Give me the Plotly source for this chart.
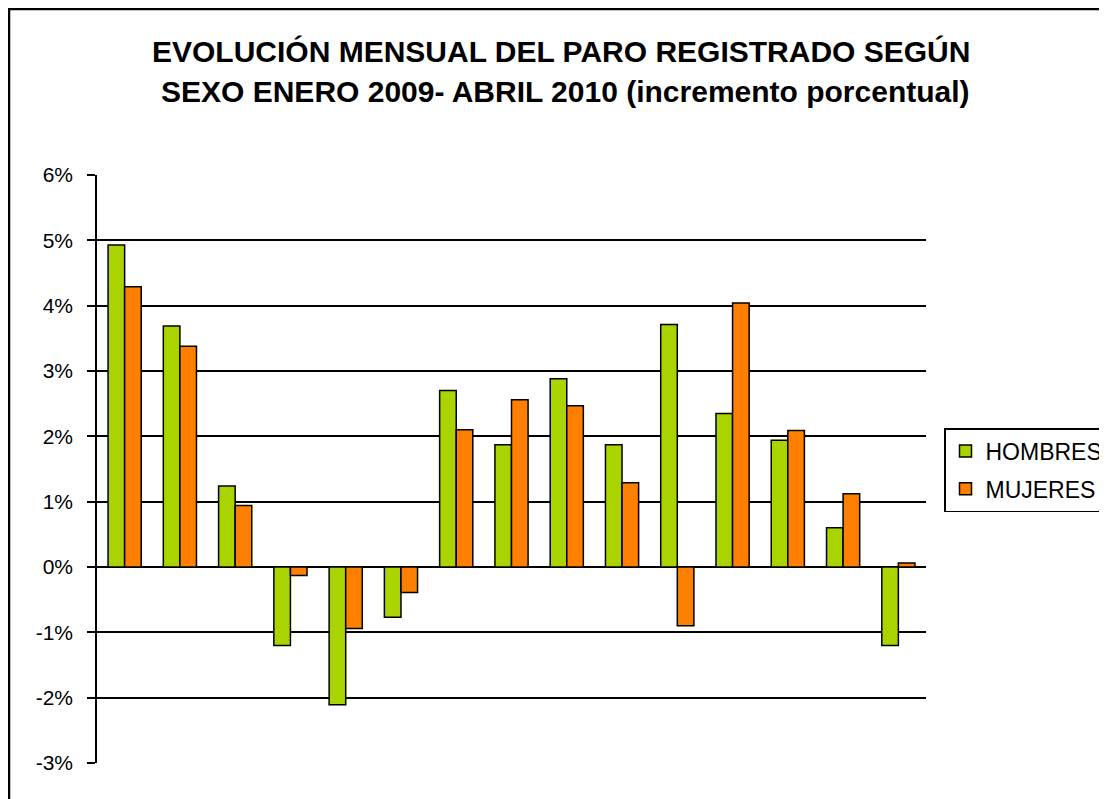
import plotly.graph_objects as go

meses = ["feb-09", "mar-09", "abr-09", "may-09", "jun-09", "jul-09", "ago-09", "sep-09",
         "oct-09", "nov-09", "dic-09", "ene-10", "feb-10", "mar-10", "abr-10"]
hombres = [4.93, 3.69, 1.24, -1.20, -2.11, -0.77, 2.70, 1.87, 2.88, 1.87, 3.71, 2.35, 1.94, 0.60, -1.20]
mujeres = [4.29, 3.38, 0.94, -0.13, -0.94, -0.39, 2.10, 2.56, 2.47, 1.29, -0.90, 4.04, 2.09, 1.12, 0.06]
y_ticks = [-3, -2, -1, 0, 1, 2, 3, 4, 5, 6]
y_labels = [f"{v}%" for v in y_ticks]
titulo1 = "EVOLUCIÓN MENSUAL DEL PARO REGISTRADO SEGÚN"
titulo2 = "SEXO ENERO 2009- ABRIL 2010 (incremento porcentual)"

FONT = "Liberation Sans, Arial, sans-serif"

fig = go.Figure()
fig.add_trace(go.Bar(x=meses, y=hombres, name="HOMBRES", legendgroup="h",
                     marker=dict(color="#AAD400", line=dict(color="#000000", width=1.5))))
fig.add_trace(go.Bar(x=meses, y=mujeres, name="MUJERES", legendgroup="m",
                     marker=dict(color="#FF8000", line=dict(color="#000000", width=1.5))))

O = 8  # page offset of the figure (body margin)
W, H = 1107 - O, 799 - O
L = 97 - O
T = 175 - O
B = H - (763 - O)
R = W - (926 - O)
pw, ph = W - L - R, H - T - B

def px_x(p):
    return (p - O - L) / pw

def px_y(p):
    return (H - B - (p - O)) / ph

fig.update_layout(
    width=W, height=H,
    margin=dict(l=L, r=R, t=T, b=B, pad=0, autoexpand=False),
    paper_bgcolor="white", plot_bgcolor="white",
    barmode="group", bargap=0.4, bargroupgap=0,
    font=dict(family=FONT, color="#000000"),
    showlegend=True,
    legend=dict(x=px_x(944), y=px_y(428), xanchor="left", yanchor="top",
                bordercolor="#000000", borderwidth=1.5, bgcolor="white",
                font=dict(size=23, family=FONT, color="#000000"),
                tracegroupgap=5, itemwidth=30),
    xaxis=dict(showticklabels=False, showgrid=False, showline=False, ticks="",
               zeroline=False),
    yaxis=dict(range=[-3, 6], tickvals=y_ticks, ticktext=y_labels,
               showgrid=True, gridcolor="#000000", gridwidth=1.5,
               zeroline=True, zerolinecolor="#000000", zerolinewidth=1.5,
               showline=True, linecolor="#000000", linewidth=1.5,
               ticks="outside", ticklen=8, tickcolor="#000000", tickwidth=1.5,
               ticklabelstandoff=10,
               tickfont=dict(size=21, family=FONT, color="#000000")),
    shapes=[dict(type="rect", xref="paper", yref="paper",
                 x0=px_x(9), x1=px_x(1130), y0=px_y(830), y1=px_y(9),
                 line=dict(color="#000000", width=2.5), fillcolor="rgba(0,0,0,0)",
                 layer="above")],
    annotations=[
        dict(text=f"<b>{titulo1}</b>", xref="paper", yref="paper",
             x=px_x(561), y=px_y(51), xanchor="center", yanchor="middle",
             showarrow=False, font=dict(size=30, family=FONT, color="#000000")),
        dict(text=f"<b>{titulo2}</b>", xref="paper", yref="paper",
             x=px_x(565), y=px_y(92), xanchor="center", yanchor="middle",
             showarrow=False, font=dict(size=30, family=FONT, color="#000000")),
    ],
)

fig.write_html("out.html")
